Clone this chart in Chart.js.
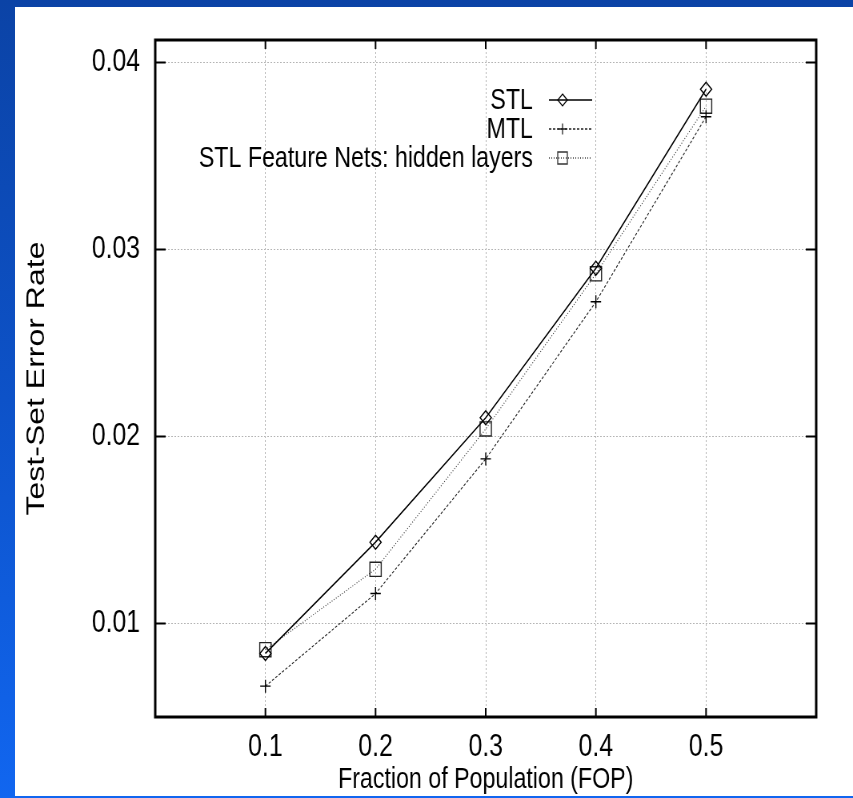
<!DOCTYPE html>
<html>
<head>
<meta charset="utf-8">
<script src="https://cdn.jsdelivr.net/npm/chart.js@4.4.1/dist/chart.umd.min.js"></script>
<style>
  html, body { margin: 0; padding: 0; }
  body {
    width: 853px; height: 798px; overflow: hidden; position: relative;
    background: linear-gradient(180deg, #0b43a6 0%, #0d52c8 50%, #1166f0 100%);
  }
  #paper { position: absolute; left: 15px; top: 7px; width: 838px; height: 789px; background: #fff; }
  /* the original figure is squeezed sideways, so the canvas is drawn wide and shown narrow */
  #myChart { position: absolute; left: 0; top: 0; width: 853px !important; height: 798px !important; }
</style>
</head>
<body>
<div id="paper"></div>
<canvas id="myChart" width="1066" height="798" style="width:853px;height:798px"></canvas>
<script>
// values
const fop = [0.1, 0.2, 0.3, 0.4, 0.5]
const stl = [0.0084, 0.01435, 0.0210, 0.0290, 0.03857]
const mtl = [0.00665, 0.0116, 0.0188, 0.0272, 0.0371]
const featureNets = [0.0086, 0.0129, 0.0204, 0.0287, 0.03766]
const xTicks = [0.1, 0.2, 0.3, 0.4, 0.5]
const yTicks = [0.01, 0.02, 0.03, 0.04]

const helv = "'Liberation Sans', Arial, sans-serif"

const toPoints = (ys) => fop.map((x, i) => ({ x: x, y: ys[i] }))

// border box + inward tick marks on all four sides
const framePlugin = {
    id: 'frame',
    afterDraw(chart) {
        const ctx = chart.ctx
        const a = chart.chartArea
        const xs = chart.scales.x
        const ys = chart.scales.y
        ctx.save()
        ctx.strokeStyle = '#000'
        ctx.lineWidth = 2
        ctx.beginPath()
        xTicks.forEach((v) => {
            const px = xs.getPixelForValue(v)
            ctx.moveTo(px, a.bottom); ctx.lineTo(px, a.bottom - 9)
            ctx.moveTo(px, a.top); ctx.lineTo(px, a.top + 9)
        })
        yTicks.forEach((v) => {
            const py = Math.round(ys.getPixelForValue(v)) + 0.5
            ctx.moveTo(a.left, py); ctx.lineTo(a.left + 13, py)
            ctx.moveTo(a.right, py); ctx.lineTo(a.right - 13, py)
        })
        ctx.stroke()
        ctx.lineWidth = 3
        ctx.strokeRect(a.left, a.top, a.right - a.left, a.bottom - a.top)
        ctx.restore()
    }
}

const drawMarker = (ctx, style, x, y, r) => {
    ctx.beginPath()
    if (style === 'rectRot') {
        ctx.moveTo(x, y - r); ctx.lineTo(x + r, y); ctx.lineTo(x, y + r); ctx.lineTo(x - r, y); ctx.closePath()
    } else if (style === 'cross') {
        ctx.moveTo(x - r, y); ctx.lineTo(x + r, y); ctx.moveTo(x, y - r); ctx.lineTo(x, y + r)
    } else {
        const s = r * Math.SQRT1_2
        ctx.rect(x - s, y - s, 2 * s, 2 * s)
    }
    ctx.stroke()
}

// gnuplot style key: right aligned text, sample line to the right
const keyPlugin = {
    id: 'gnukey',
    afterDatasetsDraw(chart) {
        const ctx = chart.ctx
        const a = chart.chartArea
        const textRight = a.right - 354
        ctx.save()
        ctx.font = '29px ' + helv
        ctx.textAlign = 'right'
        ctx.textBaseline = 'middle'
        chart.data.datasets.forEach((ds, i) => {
            const y = a.top + 60 + i * 29
            ctx.fillStyle = '#000'
            ctx.fillText(ds.label, textRight, y + 1)
            ctx.strokeStyle = ds.borderColor
            ctx.lineWidth = ds.borderWidth + 0.2
            ctx.setLineDash(ds.borderDash || [])
            ctx.beginPath()
            ctx.moveTo(textRight + 20, y); ctx.lineTo(textRight + 74, y)
            ctx.stroke()
            ctx.setLineDash([])
            ctx.lineWidth = 1.3
            drawMarker(ctx, ds.pointStyle, textRight + 37, y, ds.pointRadius * 0.85)
        })
        ctx.restore()
    }
}

const ctx = document.getElementById('myChart').getContext('2d')
const config = {
    type: 'line',
    data: {
        datasets: [{
                label: 'STL',
                data: toPoints(stl),
                borderColor: '#000',
                borderWidth: 1.5,
                pointStyle: 'rectRot',
                pointRadius: 7,
                pointBorderWidth: 1.4,
                pointBorderColor: '#000',
                pointBackgroundColor: 'rgba(0,0,0,0)',
            },
            {
                label: 'MTL',
                data: toPoints(mtl),
                borderColor: '#222',
                borderWidth: 1.1,
                borderDash: [3, 2],
                pointStyle: 'cross',
                pointRadius: 6.5,
                pointBorderWidth: 1.4,
                pointBorderColor: '#000',
                pointBackgroundColor: 'rgba(0,0,0,0)',
            },
            {
                label: 'STL Feature Nets: hidden layers',
                data: toPoints(featureNets),
                borderColor: '#333',
                borderWidth: 1.1,
                borderDash: [1, 2],
                pointStyle: 'rect',
                pointRadius: 10,
                pointBorderWidth: 1.4,
                pointBorderColor: '#222',
                pointBackgroundColor: 'rgba(0,0,0,0)',
            },
        ]
    },
    options: {
        responsive: false,
        animation: false,
        devicePixelRatio: 1,
        layout: { padding: { top: 40, right: 46, left: 0, bottom: 0 } },
        plugins: {
            legend: { display: false },
            tooltip: { enabled: false },
        },
        elements: { line: { tension: 0, fill: false } },
        scales: {
            x: {
                type: 'linear',
                min: 0,
                max: 0.6,
                afterBuildTicks: (s) => { s.ticks = xTicks.map((v) => ({ value: v })) },
                afterFit: (s) => { s.height = 81 },
                ticks: {
                    color: '#000',
                    padding: 12,
                    font: { family: helv, size: 31 },
                    callback: (v) => v.toFixed(1),
                },
                grid: { color: '#b4b4b4', lineWidth: 1, drawTicks: false },
                border: { display: false, dash: [2, 2] },
                title: {
                    display: true,
                    text: 'Fraction of Population (FOP)',
                    color: '#000',
                    font: { family: helv, size: 29 },
                    padding: { top: 0, bottom: 1 },
                },
            },
            y: {
                type: 'linear',
                min: 0.005,
                max: 0.0412,
                afterBuildTicks: (s) => { s.ticks = yTicks.map((v) => ({ value: v })) },
                afterFit: (s) => { s.width = 194 },
                ticks: {
                    color: '#000',
                    padding: 19,
                    font: { family: helv, size: 31 },
                    callback: (v) => v.toFixed(2),
                },
                grid: { color: '#b4b4b4', lineWidth: 1, drawTicks: false },
                border: { display: false, dash: [2, 2] },
                title: {
                    display: true,
                    text: 'Test-Set Error Rate',
                    color: '#000',
                    font: { family: helv, size: 32 },
                    padding: { top: 27, bottom: 0 },
                },
            },
        },
    },
    plugins: [framePlugin, keyPlugin],
}
let myChart = new Chart(ctx, config)
</script>
</body>
</html>
